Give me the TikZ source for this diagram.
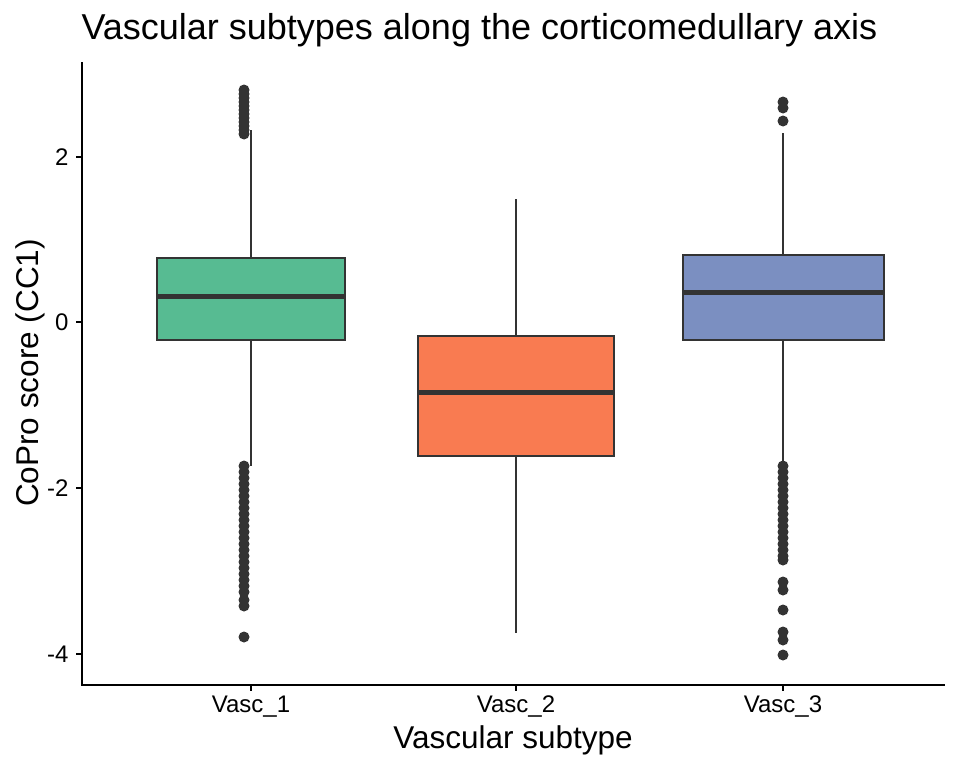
\documentclass[tikz,border=0pt]{standalone}
\usepackage{fontspec}
\setmainfont{Liberation Sans}
\definecolor{vascA}{HTML}{57BB92}
\definecolor{vascB}{HTML}{F97B51}
\definecolor{vascC}{HTML}{7B8FC1}
\definecolor{inkgray}{HTML}{333333}
\tikzset{
  boxfill/.style={draw=inkgray,line width=2.2pt},
  medline/.style={draw=inkgray,line width=5pt},
  whisk/.style={draw=inkgray,line width=2.2pt},
  outl/.style={fill=inkgray},
  ticklab/.style={font=\fontsize{24}{28}\selectfont,text=black}
}
\begin{document}
\begin{tikzpicture}[x=1pt,y=-1pt]
\useasboundingbox (0,0) rectangle (960,768);
% title
\node [anchor=west,font=\fontsize{36}{40}\selectfont] (title) at (78,30) {Vascular subtypes along the corticomedullary axis};
% axes
\draw [line width=2pt] (82,62) -- (82,685) -- (945,685);
\foreach \yy/\lab in {157/2,322/0,488/-2,654/-4}{
  \draw [line width=1.8pt] (76,\yy) -- (82,\yy);
  \node [ticklab,anchor=east] (yt\lab) at (72,\yy) {\lab};
}
\foreach \xx/\lab in {251/Vasc\_1,516/Vasc\_2,783/Vasc\_3}{
  \draw [line width=1.8pt] (\xx,685) -- (\xx,691);
  \node [ticklab,anchor=north] at (\xx,692) {\lab};
}
\node [font=\fontsize{31.5}{36}\selectfont] (xlab) at (513,740) {Vascular subtype};
\node [font=\fontsize{31.5}{36}\selectfont,rotate=90] (ylab) at (30,373) {CoPro score (CC1)};
% Vasc_1
\draw [whisk] (251,130) -- (251,258);
\draw [whisk] (251,340) -- (251,466);
\filldraw [boxfill,fill=vascA] (157,258) rectangle (345,340);
\draw [medline] (157,296) -- (345,296);
\foreach \yy in {90,94,98,102,106,110,114,118,122,126,130,134}{\fill [outl] (244,\yy) circle (5.5);}
\foreach \yy in {466,472,478,484,490,496,502,508,514,520,526,532,538,544,550,556,562,568,574,580,586,592,600,606}{\fill [outl] (244,\yy) circle (5.5);}
\fill [outl] (244,637) circle (5.5);
% Vasc_2
\draw [whisk] (516,199) -- (516,336);
\draw [whisk] (516,456) -- (516,633);
\filldraw [boxfill,fill=vascB] (418,336) rectangle (614,456);
\draw [medline] (418,392) -- (614,392);
% Vasc_3
\draw [whisk] (783,133) -- (783,255);
\draw [whisk] (783,340) -- (783,466);
\filldraw [boxfill,fill=vascC] (683,255) rectangle (884,340);
\draw [medline] (683,292) -- (884,292);
\foreach \yy in {102,108,121}{\fill [outl] (783,\yy) circle (5.5);}
\foreach \yy in {466,472,478,484,490,496,502,508,514,520,526,532,538,544,550,556,560,582,590,610,632,640,655}{\fill [outl] (783,\yy) circle (5.5);}
\end{tikzpicture}
\end{document}
